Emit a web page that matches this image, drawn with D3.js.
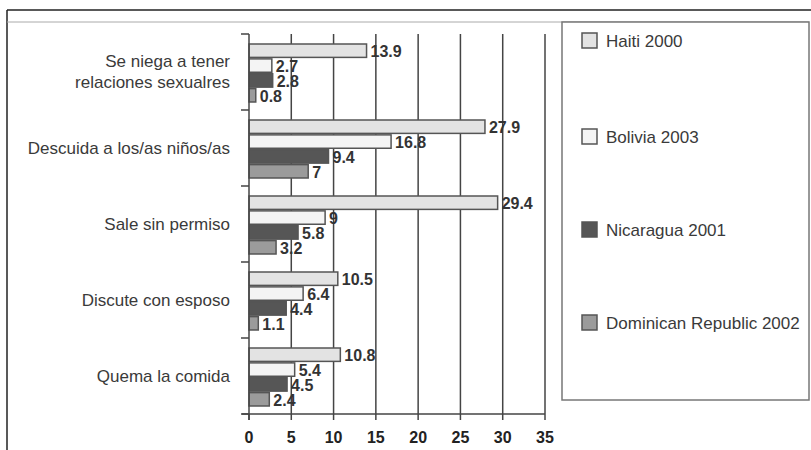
<!DOCTYPE html>
<html>
<head>
<meta charset="utf-8">
<script src="https://cdn.jsdelivr.net/npm/d3@7/dist/d3.min.js"></script>
<style>
  html, body { margin: 0; padding: 0; background: #fff; }
  svg { display: block; font-family: "Liberation Sans", Arial, sans-serif; }
</style>
</head>
<body>
<svg id="chart" width="811" height="450"></svg>
<script>
// Reasons given for justifying wife beating, by country survey (%)
const categories = [
  "Se niega a tener\nrelaciones sexualres",
  "Descuida a los/as niños/as",
  "Sale sin permiso",
  "Discute con esposo",
  "Quema la comida"
];
const seriesNames = ["Haiti 2000", "Bolivia 2003", "Nicaragua 2001", "Dominican Republic 2002"];
const haiti2000 = [13.9, 27.9, 29.4, 10.5, 10.8];
const bolivia2003 = [2.7, 16.8, 9, 6.4, 5.4];
const nicaragua2001 = [2.8, 9.4, 5.8, 4.4, 4.5];
const dominican2002 = [0.8, 7, 3.2, 1.1, 2.4];
const xTicks = [0, 5, 10, 15, 20, 25, 30, 35];

const seriesValues = [haiti2000, bolivia2003, nicaragua2001, dominican2002];
const fills = ["#e3e3e3", "#f4f4f4", "#565656", "#9b9b9b"];
const stroke = "#555";

const svg = d3.select("#chart");

// outer frame
svg.append("line").attr("x1", 7).attr("x2", 811).attr("y1", 10).attr("y2", 10)
  .attr("stroke", "#222").attr("stroke-width", 1.5);
svg.append("line").attr("x1", 7).attr("x2", 7).attr("y1", 10).attr("y2", 450)
  .attr("stroke", "#222").attr("stroke-width", 1.5);
svg.append("line").attr("x1", 7).attr("x2", 809).attr("y1", 22).attr("y2", 22)
  .attr("stroke", "#aaa").attr("stroke-width", 1);

const x = d3.scaleLinear().domain([0, 35]).range([249, 545]);
const y = d3.scaleBand().domain(categories).range([34, 414]).padding(0);
const inner = d3.scaleBand().domain(d3.range(seriesValues.length))
  .range([10, 68]).paddingInner(0.1).paddingOuter(0);

// vertical gridlines
svg.append("g").selectAll("line").data(xTicks.filter(d => d > 0)).join("line")
  .attr("x1", d => x(d)).attr("x2", d => x(d))
  .attr("y1", 34).attr("y2", 414)
  .attr("stroke", "#444").attr("stroke-width", 1.5);

// bars
const groups = svg.append("g").selectAll("g").data(categories).join("g")
  .attr("transform", c => `translate(0,${y(c)})`);

groups.each(function(c, ci) {
  const g = d3.select(this);
  seriesValues.forEach((vals, si) => {
    const v = vals[ci];
    g.append("rect")
      .attr("x", x(0)).attr("y", inner(si))
      .attr("width", x(v) - x(0)).attr("height", inner.bandwidth())
      .attr("fill", fills[si]).attr("stroke", stroke).attr("stroke-width", 1.5);
    g.append("text")
      .attr("x", x(v) + 4).attr("y", inner(si) + inner.bandwidth() / 2 + 1)
      .attr("dominant-baseline", "central")
      .attr("font-size", 16).attr("font-weight", "bold").attr("fill", "#333")
      .text(String(v));
  });
});

// y axis with category separators
const yAxis = svg.append("g");
yAxis.append("line").attr("x1", 249).attr("x2", 249).attr("y1", 34).attr("y2", 420)
  .attr("stroke", "#444").attr("stroke-width", 1.5);
const bounds = categories.map(c => y(c)).concat([y.range()[1]]);
yAxis.selectAll("line.tick").data(bounds).join("line").attr("class", "tick")
  .attr("x1", 241).attr("x2", 249).attr("y1", d => d).attr("y2", d => d)
  .attr("stroke", "#444").attr("stroke-width", 1.5);

// category labels
svg.append("g").selectAll("text").data(categories).join("text")
  .attr("text-anchor", "end").attr("font-size", 17).attr("fill", "#3a3a3a")
  .each(function(c) {
    const lines = c.split("\n");
    const t = d3.select(this);
    const cy = y(c) + y.bandwidth() / 2;
    lines.forEach((ln, i) => {
      t.append("tspan").attr("x", 230)
        .attr("y", cy + (i - (lines.length - 1) / 2) * 21)
        .attr("dominant-baseline", "central")
        .text(ln);
    });
  });

// x axis
const xAxis = svg.append("g");
xAxis.append("line").attr("x1", 242).attr("x2", 545).attr("y1", 414).attr("y2", 414)
  .attr("stroke", "#444").attr("stroke-width", 1.5);
xAxis.selectAll("line.tick").data(xTicks).join("line").attr("class", "tick")
  .attr("x1", d => x(d)).attr("x2", d => x(d)).attr("y1", 414).attr("y2", 420)
  .attr("stroke", "#444").attr("stroke-width", 1.5);
xAxis.selectAll("text").data(xTicks).join("text")
  .attr("x", d => x(d)).attr("y", 437)
  .attr("text-anchor", "middle").attr("dominant-baseline", "central")
  .attr("font-size", 16).attr("font-weight", "bold").attr("fill", "#222")
  .text(d => d);

// legend
const legend = svg.append("g");
legend.append("rect").attr("x", 562).attr("y", 22).attr("width", 247).attr("height", 378)
  .attr("fill", "#fff").attr("stroke", "#777").attr("stroke-width", 1.5);
const legendY = [41, 137, 230, 323];
seriesNames.forEach((name, i) => {
  legend.append("rect").attr("x", 582).attr("y", legendY[i] - 8)
    .attr("width", 15).attr("height", 15)
    .attr("fill", fills[i]).attr("stroke", stroke).attr("stroke-width", 1.5);
  legend.append("text").attr("x", 606).attr("y", legendY[i])
    .attr("dominant-baseline", "central")
    .attr("font-size", 17).attr("fill", "#3a3a3a")
    .text(name);
});
</script>
</body>
</html>
